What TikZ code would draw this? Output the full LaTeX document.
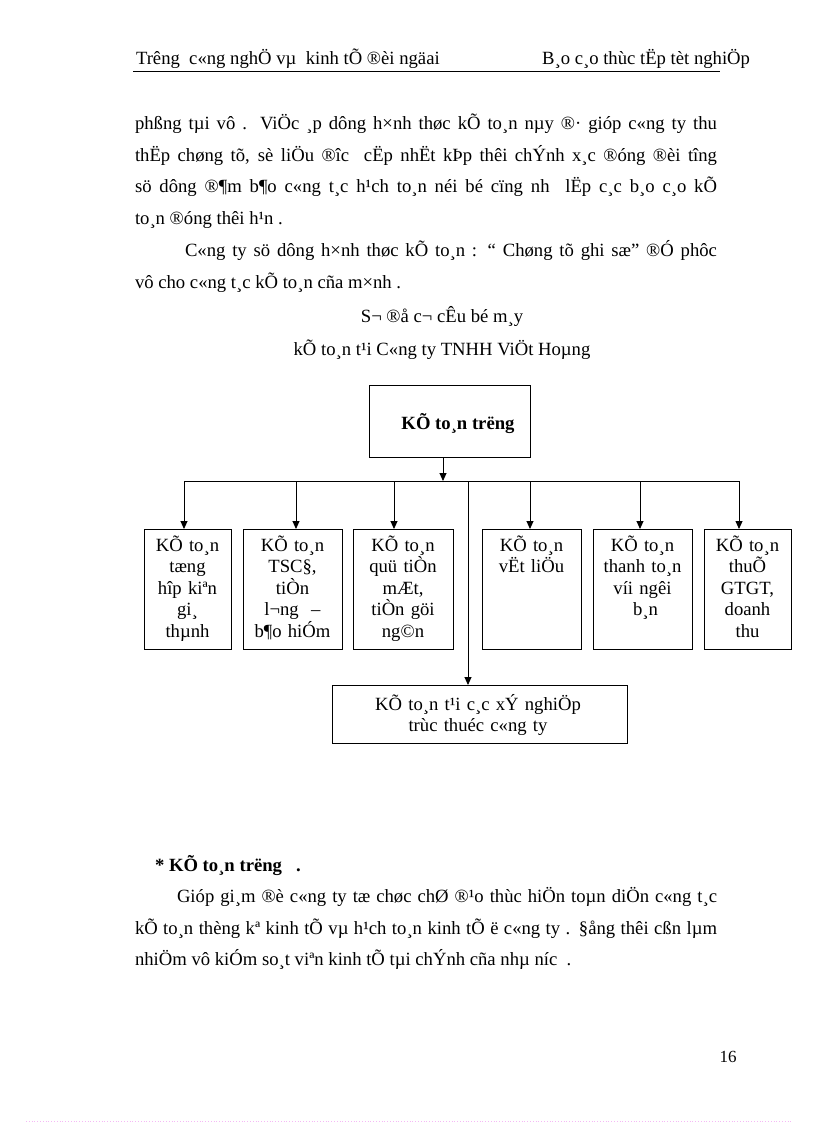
\documentclass[tikz,border=0pt]{standalone}
\usepackage{fontspec}
\setmainfont{Liberation Serif}
\usetikzlibrary{arrows.meta}
\newcommand\fs{\fontsize{18.67}{21.6}\selectfont}
\definecolor{dotpink}{RGB}{245,185,245}
\begin{document}
\begin{tikzpicture}[x=1pt,y=-1pt,
  every node/.style={inner sep=0pt,outer sep=0pt},
  txt/.style={font=\fs,anchor=base west},
  ctxt/.style={font=\fs,anchor=base},
  boxst/.style={draw,line width=0.9pt,anchor=north west},
  btxt/.style={font=\fs,align=center,anchor=base,text width=#1},
  lineb/.style={line width=0.9pt},
  arr/.style={line width=0.9pt,-{Triangle[length=8pt,width=7pt]}}]
\useasboundingbox (0,0) rectangle (816,1123);
% header
\node[txt] (h1) at (136,65) {Trêng\ \ c«ng\ nghÖ\ vµ\ \ kinh\ tÕ\ ®èi\ ngäai};
\node[font=\fs,anchor=base east] (h2) at (750,65) {B¸o c¸o thùc tËp tèt nghiÖp};
\coordinate (hl) at (133,71.5);
\coordinate (hr) at (720,71.5);
\draw[line width=0.9pt] (hl) -- (hr);
% body text
\node[txt] (l1) at (135,130) {\makebox[582pt][s]{phßng tµi vô . ViÖc ¸p dông h×nh thøc kÕ to¸n nµy ®· gióp c«ng ty thu}};
\node[txt] (l2) at (135,161.5) {\makebox[582pt][s]{thËp chøng tõ, sè liÖu ®îc\ \ cËp nhËt kÞp thêi chÝnh x¸c ®óng ®èi tîng}};
\node[txt] (l3) at (135,193) {\makebox[582pt][s]{sö dông ®¶m b¶o c«ng t¸c h¹ch to¸n néi bé cïng nh\ \ lËp c¸c b¸o c¸o kÕ}};
\node[txt] (l4) at (135,224.5) {to¸n ®óng thêi h¹n .};
\node[txt] (l5) at (185,256) {\makebox[532pt][s]{C«ng ty sö dông h×nh thøc kÕ to¸n : “ Chøng tõ ghi sæ” ®Ó phôc}};
\node[txt] (l6) at (135,288) {vô cho c«ng t¸c kÕ to¸n cña m×nh .};
\node[ctxt] (t1) at (442,322) {S¬ ®å c¬ cÊu bé m¸y};
\node[ctxt] (t2) at (442,355) {kÕ to¸n t¹i C«ng ty TNHH ViÖt Hoµng};
% diagram
\node[boxst,minimum width=161,minimum height=72] (top) at (369,385) {};
\node[font=\fs\bfseries,anchor=base] (toplbl) at (458,429) {KÕ to¸n trëng};
\coordinate (b0) at (443,481);
\coordinate (bl) at (184,481);
\coordinate (br) at (739,481);
\coordinate (b1) at (184,481);
\coordinate (b2) at (296,481);
\coordinate (b3) at (394,481);
\coordinate (bm) at (468,481);
\coordinate (b4) at (530,481);
\coordinate (b5) at (640,481);
\coordinate (b6) at (739,481);
\draw[lineb] (bl) -- (br);
\draw[arr] (top.south -| b0) -- (b0);
\node[boxst,minimum width=87,minimum height=120] (k1) at (144,529) {};
\node[boxst,minimum width=99,minimum height=120] (k2) at (243,529) {};
\node[boxst,minimum width=100,minimum height=120] (k3) at (353,529) {};
\node[boxst,minimum width=99,minimum height=120] (k4) at (482,529) {};
\node[boxst,minimum width=99,minimum height=120] (k5) at (593,529) {};
\node[boxst,minimum width=87,minimum height=120] (k6) at (704,529) {};
\node[boxst,minimum width=295,minimum height=58] (kb) at (332,685) {};
\draw[arr] (b1) -- (b1 |- k1.north);
\draw[arr] (b2) -- (b2 |- k2.north);
\draw[arr] (b3) -- (b3 |- k3.north);
\draw[arr] (b4) -- (b4 |- k4.north);
\draw[arr] (b5) -- (b5 |- k5.north);
\draw[arr] (b6) -- (b6 |- k6.north);
\draw[arr] (bm) -- (bm |- kb.north);
\node[btxt=85pt] (k1t) at (187.5,551) {KÕ to¸n\\tæng\\hîp kiªn\\gi¸\\thµnh};
\node[btxt=97pt] (k2t) at (292.5,551) {KÕ to¸n\\TSC§,\\tiÒn\\l¬ng\ \ –\\b¶o hiÓm};
\node[btxt=98pt] (k3t) at (403,551) {KÕ to¸n\\quü tiÒn\\mÆt,\\tiÒn göi\\ng©n};
\node[btxt=97pt] (k4t) at (531.5,551) {KÕ to¸n\\vËt liÖu};
\node[btxt=97pt] (k5t) at (642.5,551) {KÕ to¸n\\thanh to¸n\\víi ngêi\hspace{5pt}\\\hspace{6pt}b¸n};
\node[btxt=85pt] (k6t) at (747.5,551) {KÕ to¸n\\thuÕ\\GTGT,\\doanh\\thu};
\node[btxt=290pt] (kbt) at (478,710) {KÕ to¸n t¹i c¸c xÝ nghiÖp\\trùc thuéc c«ng ty};
% lower text
\node[font=\fs\bfseries,anchor=base west] (s1) at (155,871) {* KÕ to¸n trëng\ \ \ .};
\node[txt] (m1) at (177,902.5) {\makebox[540pt][s]{Gióp gi¸m ®è c«ng ty tæ chøc chØ ®¹o thùc hiÖn toµn diÖn c«ng t¸c}};
\node[txt] (m2) at (135,934) {\makebox[582pt][s]{kÕ to¸n thèng kª kinh tÕ vµ h¹ch to¸n kinh tÕ ë c«ng ty . §ång thêi cßn lµm}};
\node[txt] (m3) at (135,965.5) {nhiÖm vô kiÓm so¸t viªn kinh tÕ tµi chÝnh cña nhµ níc\ \ .};
% page number
\node[font=\fontsize{17}{20}\selectfont,anchor=base] (pn) at (728,1062) {16};
\coordinate (dl) at (26,1121.5);
\coordinate (dr) at (792,1121.5);
\draw[dotpink,dotted,line width=0.8pt] (dl) -- (dr);
\end{tikzpicture}
\end{document}
